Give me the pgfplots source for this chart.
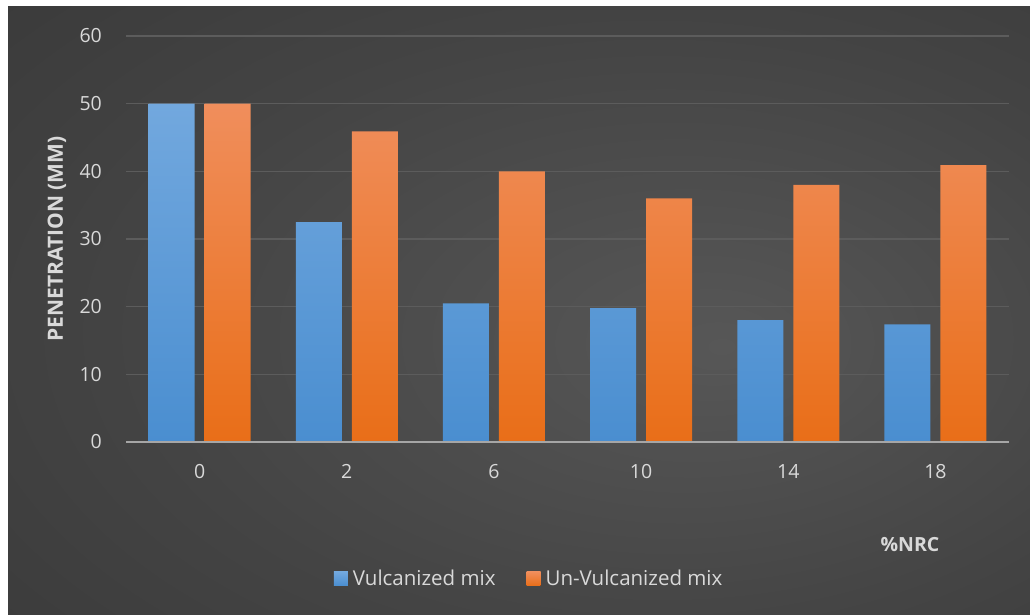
\documentclass[border=0pt]{standalone}
\usepackage{fontspec}
\setmainfont{Open Sans}
\usepackage{pgfplots}
\pgfplotsset{compat=1.18}
\definecolor{bgin}{HTML}{575757}
\definecolor{bgmid}{HTML}{444444}
\definecolor{bgout}{HTML}{282828}
\definecolor{gridc}{HTML}{5C5C5C}
\definecolor{axisc}{HTML}{A6A6A6}
\definecolor{tickc}{HTML}{D9D9D9}
\definecolor{bluetop}{HTML}{72A8DE}
\definecolor{bluebot}{HTML}{4A8ED0}
\definecolor{orgtop}{HTML}{F08E5C}
\definecolor{orgbot}{HTML}{E96E18}
\pgfdeclareradialshading{bgshade}{\pgfpoint{10bp}{-3bp}}{color(0bp)=(bgin); color(25bp)=(bgmid); color(72bp)=(bgout)}
\begin{document}
\begin{tikzpicture}[x=1pt,y=1pt]
\path[use as bounding box] (0,0) rectangle (1030,614);
\fill[white] (0,0) rectangle (1030,614);
\shade[shading=bgshade] (8,0) rectangle (1030,607);
\begin{axis}[
  at={(126pt,172pt)}, anchor=south west,
  scale only axis, width=883pt, height=406pt,
  xmin=-0.5, xmax=5.5, ymin=0, ymax=60,
  ytick={0,10,...,60},
  xtick={0,1,2,3,4,5},
  xticklabels={0,2,6,10,14,18},
  ybar=10pt, bar width=46pt,
  axis line style={draw=none},
  major tick length=0pt,
  tick style={draw=none},
  ymajorgrids, grid style={gridc, line width=1.5pt},
  /pgf/number format/assume math mode=true,
  ticklabel style={font=\fontsize{19.5}{23}\selectfont, text=tickc},
  yticklabel style={inner sep=0pt, xshift=-24pt},
  xticklabel style={anchor=north, inner sep=0pt, yshift=-22pt},
  legend columns=2,
  legend style={at={(0.456,-0.337)}, anchor=center, draw=none, fill=none,
    font=\fontsize{20.5}{24}\selectfont, text=tickc, inner sep=0pt,
    nodes={inner sep=1pt},
    /tikz/every even column/.append style={column sep=30pt}},
  legend image code/.code={\fill[#1] (0pt,-7pt) rectangle (14pt,7pt); \path (0pt,0pt) -- (18pt,0pt);},
]
\addplot[draw=none, top color=bluetop, bottom color=bluebot] coordinates {(0,50) (1,32.5) (2,20.5) (3,19.8) (4,18) (5,17.4)};
\addplot[draw=none, top color=orgtop, bottom color=orgbot] coordinates {(0,50) (1,45.9) (2,40) (3,36) (4,38) (5,40.9)};
\legend{Vulcanized mix, Un-Vulcanized mix}
\draw[axisc, line width=2pt] (rel axis cs:0,0) -- (rel axis cs:1,0);
\end{axis}
\node[rotate=90, text=tickc, font=\bfseries\fontsize{21}{25}\selectfont] at (57,375) {PENETRATION (MM)};
\node[text=tickc, font=\bfseries\fontsize{19.5}{23}\selectfont] at (910,69) {\%NRC};
\end{tikzpicture}
\end{document}
